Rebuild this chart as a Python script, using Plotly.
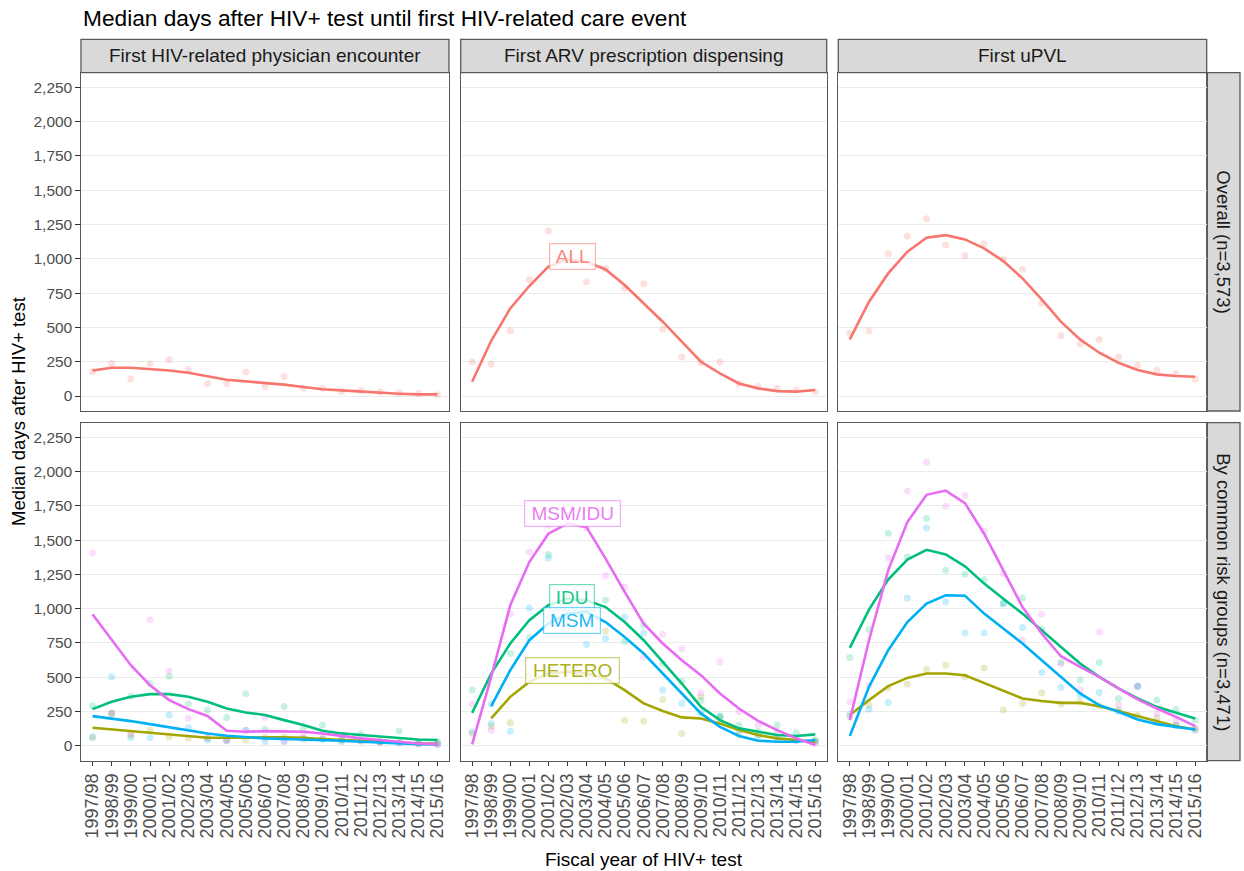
import plotly.graph_objects as go

years = ["1997/98", "1998/99", "1999/00", "2000/01", "2001/02", "2002/03", "2003/04",
         "2004/05", "2005/06", "2006/07", "2007/08", "2008/09", "2009/10", "2010/11",
         "2011/12", "2012/13", "2013/14", "2014/15", "2015/16"]

event_titles = ["First HIV-related physician encounter", "First ARV prescription dispensing", "First uPVL"]
row_titles = ["Overall (n=3,573)", "By common risk groups (n=3,471)"]
groups = ["HETERO", "IDU", "MSM", "MSM/IDU"]
group_colors = {"ALL": "#F8766D", "HETERO": "#A3A500", "IDU": "#00BF7D", "MSM": "#00B0F6", "MSM/IDU": "#E76BF3"}

# ---- Overall (ALL) ----
phys_all_pts = [177, 238, 124, 233, 265, 194, 90, 90, 175, 70, 143, 56, 56, 32, 39, 29, 24, 19, 10]
phys_all_line = [186, 206, 206, 198, 186, 170, 143, 119, 107, 97, 83, 66, 49, 41, 32, 22, 17, 12, 12]
arv_all_pts = [248, 231, 476, 850, 1203, 1010, 833, 930, 785, 819, 486, 284, 245, 248, 90, 68, 56, 44, 29]
arv_all_line = [104, 403, 639, 802, 943, 996, 979, 923, 809, 676, 542, 396, 250, 165, 92, 56, 36, 32, 44]
upvl_all_pts = [457, 474, 1037, 1164, 1292, 1101, 1023, 1110, 996, 923, 676, 440, 379, 413, 287, 226, 190, 165, 122]
upvl_all_line = [413, 688, 894, 1052, 1154, 1173, 1142, 1076, 984, 858, 705, 542, 413, 316, 243, 190, 158, 146, 141]

# ---- Physician encounter by group ----
phys_hetero_pts = [58, 236, 78, 114, 66, 54, 54, 40, 40, 60, 65, 55, 50, 45, 35, 30, 25, 20, 15]
phys_hetero_line = [131, 119, 107, 95, 83, 66, 58, 58, 61, 61, 61, 58, 49, 42, 34, 29, 22, 17, 17]
phys_idu_pts = [291, 236, 362, 454, 508, 304, 260, 207, 379, 119, 287, 120, 151, 40, 85, 30, 107, 25, 30]
phys_idu_line = [267, 321, 357, 377, 377, 357, 321, 272, 243, 224, 187, 151, 109, 90, 78, 66, 54, 46, 42]
phys_msm_pts = [66, 503, 58, 58, 224, 134, 42, 37, 114, 29, 30, 50, 45, 30, 40, 25, 20, 15, 12]
phys_msm_line = [216, 199, 180, 158, 134, 109, 90, 73, 61, 54, 49, 46, 42, 37, 29, 22, 17, 12, 10]
phys_msmidu_pts = [1406, 240, 90, 920, 546, 200, 60, 40, 114, 207, 37, 85, 60, 45, 35, 25, 20, 12, 8]
phys_msmidu_line = [959, 770, 588, 442, 333, 267, 217, 109, 102, 107, 107, 102, 90, 71, 54, 42, 29, 17, 12]

# ---- ARV dispensing by group ----
arv_hetero_pts = [90, 143, 168, 520, 560, 560, 500, 838, 187, 180, 338, 90, 357, 200, 78, 80, 60, 50, 35]
arv_hetero_line = [None, 199, 357, 466, 527, 539, 527, 491, 406, 309, 253, 207, 199, 163, 114, 78, 54, 42, 29]
arv_idu_pts = [406, 304, 673, 790, 1396, 1080, 1000, 1061, 760, 879, 600, 470, 330, 216, 150, 102, 151, 95, 40]
arv_idu_line = [240, 527, 746, 916, 1025, 1073, 1061, 1012, 903, 770, 612, 454, 284, 187, 127, 102, 78, 71, 83]
arv_msm_pts = [102, 163, 105, 1005, 1369, 1050, 738, 782, 940, 823, 406, 309, 240, 216, 110, 60, 50, 40, 30]
arv_msm_line = [None, 289, 551, 770, 891, 964, 976, 903, 794, 673, 527, 382, 236, 138, 71, 37, 29, 29, 42]
arv_msmidu_pts = [304, 114, 964, 1413, 1610, 1650, 1590, 1243, 1158, 648, 814, 709, 386, 612, 250, 150, 100, 40, 20]
arv_msmidu_line = [10, 503, 1025, 1340, 1547, 1620, 1595, 1365, 1122, 891, 746, 624, 515, 382, 272, 182, 114, 54, 5]

# ---- uPVL by group ----
upvl_hetero_pts = [211, 300, 420, 449, 556, 588, 503, 568, 260, 309, 386, 304, 320, 290, 260, 220, 200, 150, 120]
upvl_hetero_line = [224, 333, 435, 495, 527, 527, 515, 459, 398, 345, 326, 313, 313, 289, 253, 216, 175, 143, 119]
upvl_idu_pts = [644, 848, 1551, 1377, 1658, 1280, 1251, 1212, 1037, 1078, 850, 610, 480, 607, 345, 435, 333, 265, 187]
upvl_idu_line = [714, 993, 1212, 1358, 1430, 1396, 1309, 1183, 1073, 964, 843, 721, 600, 503, 418, 345, 284, 240, 199]
upvl_msm_pts = [231, 267, 316, 1078, 1588, 1049, 823, 823, 1037, 862, 535, 425, 369, 389, 250, 435, 170, 150, 114]
upvl_msm_line = [71, 430, 697, 903, 1037, 1098, 1095, 964, 855, 746, 624, 503, 382, 296, 248, 192, 158, 138, 119]
upvl_msmidu_pts = [321, 442, 1369, 1857, 2068, 1748, 1826, 1566, 1256, 770, 959, 595, 406, 830, 300, 435, 231, 180, 130]
upvl_msmidu_line = [187, 770, 1280, 1632, 1831, 1862, 1770, 1547, 1280, 1012, 819, 653, 576, 503, 418, 338, 272, 211, 143]

y_ticks = [0, 250, 500, 750, 1000, 1250, 1500, 1750, 2000, 2250]

overall = [
    {"ALL": (phys_all_pts, phys_all_line)},
    {"ALL": (arv_all_pts, arv_all_line)},
    {"ALL": (upvl_all_pts, upvl_all_line)},
]
by_group = [
    {"HETERO": (phys_hetero_pts, phys_hetero_line), "IDU": (phys_idu_pts, phys_idu_line),
     "MSM": (phys_msm_pts, phys_msm_line), "MSM/IDU": (phys_msmidu_pts, phys_msmidu_line)},
    {"HETERO": (arv_hetero_pts, arv_hetero_line), "IDU": (arv_idu_pts, arv_idu_line),
     "MSM": (arv_msm_pts, arv_msm_line), "MSM/IDU": (arv_msmidu_pts, arv_msmidu_line)},
    {"HETERO": (upvl_hetero_pts, upvl_hetero_line), "IDU": (upvl_idu_pts, upvl_idu_line),
     "MSM": (upvl_msm_pts, upvl_msm_line), "MSM/IDU": (upvl_msmidu_pts, upvl_msmidu_line)},
]
panels = [overall, by_group]

# labels: (row, col, name, y value, box width px)
labels = [
    (0, 1, "ALL", 1016, 43),
    (1, 1, "MSM/IDU", 1697, 93),
    (1, 1, "IDU", 1085, 42),
    (1, 1, "MSM", 916, 54),
    (1, 1, "HETERO", 551, 91),
]

W, H = 1244, 871
FONT = "Arial, Liberation Sans, sans-serif"
col_px = [(81, 449), (460.7, 826.7), (838.3, 1206.7)]
row_px = [(72.7, 411), (422.7, 760.7)]


def px_x(v):
    return v / W


def px_y(v):
    return 1 - v / H


def rgba(hexc, a):
    h = hexc.lstrip("#")
    return "rgba(%d,%d,%d,%s)" % (int(h[0:2], 16), int(h[2:4], 16), int(h[4:6], 16), a)


fig = go.Figure()
layout = {}
shapes = []
annotations = []

for r in range(2):
    for c in range(3):
        p = r * 3 + c
        suf = "" if p == 0 else str(p + 1)
        xa, ya = "x" + suf, "y" + suf
        layout["xaxis" + suf] = dict(
            domain=[px_x(col_px[c][0]), px_x(col_px[c][1])], anchor=ya,
            type="category", categoryorder="array", categoryarray=years,
            tickmode="array", tickvals=years, ticktext=years,
            range=[-0.6, 18.6], showgrid=False, zeroline=False,
            showline=True, mirror=True, linecolor="#595959", linewidth=1.3,
            ticks="outside" if r == 1 else "", ticklen=4.5, tickwidth=1.1, tickcolor="#333333",
            showticklabels=(r == 1), tickangle=-90,
            tickfont=dict(family=FONT, size=18, color="#4D4D4D"),
        )
        layout["yaxis" + suf] = dict(
            domain=[px_y(row_px[r][1]), px_y(row_px[r][0])], anchor=xa,
            range=[-109, 2357], tickmode="array", tickvals=y_ticks, tickformat=",d",
            showgrid=True, gridcolor="#EBEBEB", gridwidth=1.1, zeroline=False,
            showline=True, mirror=True, linecolor="#595959", linewidth=1.3,
            ticks="outside" if c == 0 else "", ticklen=4.5, tickwidth=1.1, tickcolor="#333333",
            showticklabels=(c == 0),
            tickfont=dict(family=FONT, size=15.5, color="#4D4D4D"),
        )
        data = panels[r][c]
        for name, (pts, _) in data.items():
            fig.add_trace(go.Scatter(
                x=years, y=pts, mode="markers", xaxis=xa, yaxis=ya,
                marker=dict(size=7, color=group_colors[name], opacity=0.22, line=dict(width=0)),
                hoverinfo="skip", showlegend=False))
        for name, (_, line) in data.items():
            fig.add_trace(go.Scatter(
                x=years, y=line, mode="lines", xaxis=xa, yaxis=ya,
                line=dict(color=group_colors[name], width=2.6),
                connectgaps=False, showlegend=False, name=name))

# strips on top
for c in range(3):
    shapes.append(dict(type="rect", xref="paper", yref="paper",
                       x0=px_x(col_px[c][0]), x1=px_x(col_px[c][1]),
                       y0=px_y(72.7), y1=px_y(39.3),
                       fillcolor="#D9D9D9", line=dict(color="#595959", width=1.3), layer="below"))
    annotations.append(dict(xref="paper", yref="paper",
                            x=px_x((col_px[c][0] + col_px[c][1]) / 2), y=px_y(56),
                            text=event_titles[c], showarrow=False, xanchor="center", yanchor="middle",
                            font=dict(family=FONT, size=19, color="#1A1A1A")))
# strips on right
for r in range(2):
    shapes.append(dict(type="rect", xref="paper", yref="paper",
                       x0=px_x(1206.7), x1=px_x(1240),
                       y0=px_y(row_px[r][1]), y1=px_y(row_px[r][0]),
                       fillcolor="#D9D9D9", line=dict(color="#595959", width=1.3), layer="below"))
    annotations.append(dict(xref="paper", yref="paper",
                            x=px_x(1223.5), y=px_y((row_px[r][0] + row_px[r][1]) / 2),
                            text=row_titles[r], showarrow=False, textangle=90,
                            xanchor="center", yanchor="middle",
                            font=dict(family=FONT, size=18.5, color="#1A1A1A")))

# group labels
for (r, c, name, yv, bw) in labels:
    p = r * 3 + c
    suf = "" if p == 0 else str(p + 1)
    col = group_colors[name]
    annotations.append(dict(xref="x" + suf, yref="y" + suf, x=years[5], y=yv, xshift=5,
                            text=name, showarrow=False, xanchor="center", yanchor="middle",
                            width=bw, height=23, borderpad=1, borderwidth=1.2,
                            bordercolor=rgba(col, 0.55), bgcolor="rgba(255,255,255,0.8)",
                            font=dict(family=FONT, size=19, color=rgba(col, 0.9))))

# title and axis titles
annotations.append(dict(xref="paper", yref="paper", x=px_x(81), y=px_y(18),
                        text="Median days after HIV+ test until first HIV-related care event",
                        showarrow=False, xanchor="left", yanchor="middle",
                        font=dict(family=FONT, size=22.7, color="#000000")))
annotations.append(dict(xref="paper", yref="paper", x=px_x(18), y=px_y(412),
                        text="Median days after HIV+ test", showarrow=False, textangle=-90,
                        xanchor="center", yanchor="middle",
                        font=dict(family=FONT, size=18.5, color="#000000")))
annotations.append(dict(xref="paper", yref="paper", x=px_x(644), y=px_y(859),
                        text="Fiscal year of HIV+ test", showarrow=False,
                        xanchor="center", yanchor="middle",
                        font=dict(family=FONT, size=19, color="#000000")))

fig.update_layout(
    width=W, height=H, margin=dict(l=0, r=0, t=0, b=0),
    paper_bgcolor="white", plot_bgcolor="white", showlegend=False,
    shapes=shapes, annotations=annotations, **layout)

fig.write_html("out.html")
